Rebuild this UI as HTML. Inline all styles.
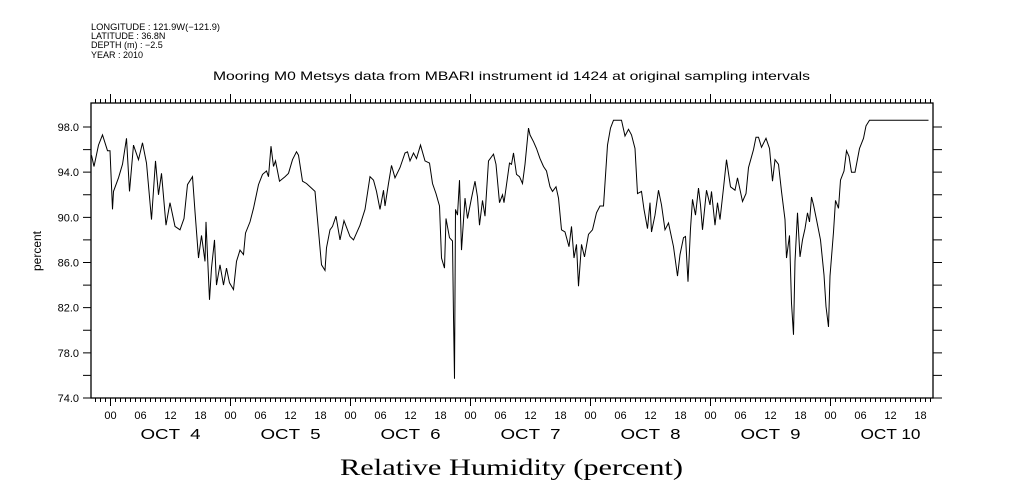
<!DOCTYPE html>
<html><head><meta charset="utf-8">
<style>
html,body{margin:0;padding:0;background:#fff;}
svg{display:block;}
text{font-family:"Liberation Sans",sans-serif;fill:#000;}
</style></head>
<body>
<svg id="chart" width="1009" height="504" viewBox="0 0 1009 504" xmlns="http://www.w3.org/2000/svg">
<g font-size="9">
<text x="91" y="30" textLength="129" lengthAdjust="spacingAndGlyphs">LONGITUDE : 121.9W(−121.9)</text>
<text x="91" y="39">LATITUDE : 36.8N</text>
<text x="91" y="48">DEPTH (m) : −2.5</text>
<text x="91" y="58">YEAR : 2010</text>
</g>
<text x="213" y="80" font-size="12" textLength="597" lengthAdjust="spacingAndGlyphs">Mooring M0 Metsys data from MBARI instrument id 1424 at original sampling intervals</text>
<text x="340" y="475" font-size="23" textLength="343" lengthAdjust="spacingAndGlyphs" style="font-family:'Liberation Serif',serif">Relative Humidity (percent)</text>
<text transform="translate(41,251) rotate(-90)" text-anchor="middle" font-size="12">percent</text>
<g id="axes"></g>
<g id="series"></g>
</svg>
<script>
const hours = [-3.8,-3.3,-2.4,-1.6,-0.6,-0.1,0.4,0.6,1.6,2.4,3.2,3.8,4.6,5.6,6.4,7.2,8.2,9.0,9.6,10.2,11.1,11.9,12.9,13.9,14.7,15.4,16.4,16.9,17.6,18.2,18.9,19.1,19.8,20.2,20.8,21.2,21.9,22.6,23.2,23.8,24.6,25.2,25.9,26.6,27.0,27.9,28.6,29.6,30.4,31.2,31.6,32.1,32.6,33.0,33.8,34.9,35.6,36.4,37.2,37.6,38.4,39.2,39.9,40.9,41.4,42.2,42.9,43.2,43.9,44.4,45.1,45.9,46.7,47.9,48.6,49.9,50.9,51.9,52.6,53.2,53.9,54.6,54.9,55.6,56.2,56.9,57.9,58.9,59.4,59.9,60.6,61.2,62.0,62.9,63.8,64.4,65.1,65.8,66.2,66.8,67.1,67.8,68.4,68.6,68.8,69.0,69.4,69.8,70.2,70.9,71.4,72.2,72.9,73.4,73.8,74.4,74.9,75.6,76.6,77.1,77.8,78.4,78.7,79.8,80.2,80.6,81.2,81.8,82.4,82.9,83.6,83.9,84.6,85.2,85.9,86.6,87.2,87.9,88.4,89.1,89.6,90.2,90.9,91.7,92.2,92.7,93.2,93.6,94.2,94.8,95.6,96.4,97.2,97.9,98.6,99.4,100.0,100.6,102.2,102.9,103.6,104.2,104.9,105.4,106.2,106.7,107.4,107.9,108.2,108.9,109.6,110.2,110.9,111.6,112.6,113.4,113.9,114.6,115.0,115.5,116.0,116.4,117.0,117.6,118.0,118.4,119.2,119.9,120.2,120.9,121.4,121.9,122.6,123.2,124.0,124.9,125.4,126.4,127.1,127.6,128.6,129.1,129.6,130.2,131.1,131.8,132.4,132.9,133.6,134.2,134.9,135.2,135.8,136.2,136.6,136.9,137.4,137.9,138.4,138.9,139.4,139.8,140.2,140.6,141.2,142.0,142.7,143.1,143.6,143.9,144.6,145.0,145.6,146.0,146.7,147.2,147.7,148.2,148.9,149.8,150.6,151.1,151.8,163.6];
const humidity = [95.5,94.5,96.4,97.3,95.9,95.9,90.7,92.3,93.5,94.7,97.0,92.3,96.4,95.1,96.6,94.8,89.8,95.0,92.0,93.9,89.3,91.3,89.2,88.9,89.9,92.9,93.6,90.5,86.4,88.4,86.1,89.6,82.7,85.5,88.0,84.0,85.8,84.0,85.5,84.2,83.6,86.1,87.1,86.7,88.6,89.6,90.8,92.9,93.8,94.1,93.6,96.3,94.5,95.0,93.2,93.6,93.9,95.1,95.8,95.5,93.2,93.0,92.7,92.3,89.8,85.8,85.3,87.3,88.9,89.2,90.1,88.0,89.7,88.3,88.0,89.3,90.7,93.6,93.3,92.3,90.7,92.4,91.0,93.0,94.6,93.5,94.4,95.7,95.8,95.0,95.7,95.2,96.4,95.0,94.8,93.0,92.1,91.0,86.4,85.5,89.9,88.2,87.9,81.2,75.7,90.7,90.2,93.3,87.1,91.7,89.9,91.7,93.2,91.8,89.3,91.5,90.1,95.0,95.6,94.7,91.3,92.0,91.3,94.8,94.7,95.7,93.8,93.6,93.0,94.7,97.9,97.3,96.7,96.1,95.2,94.5,94.1,92.7,92.3,92.7,91.7,88.9,88.7,87.4,89.2,86.4,87.6,83.9,87.6,86.5,88.5,88.9,90.4,91.0,91.0,96.4,97.9,98.6,98.6,97.2,97.8,97.3,96.1,92.1,92.3,90.7,89.0,91.3,88.7,90.2,92.4,91.1,88.9,89.5,87.4,84.8,86.7,88.2,88.3,84.3,89.0,91.6,90.2,92.6,91.1,88.9,92.4,91.1,92.3,89.3,91.3,89.8,92.6,95.1,92.7,92.4,93.5,91.4,92.1,94.4,96.0,97.1,97.1,96.2,97.0,96.1,93.2,95.1,94.7,92.3,89.8,86.4,88.4,82.4,79.6,86.1,90.4,86.5,88.0,89.0,90.4,89.6,91.8,91.1,89.8,88.0,84.9,82.1,80.3,84.8,88.7,91.5,90.8,93.3,94.1,95.9,95.4,94.0,94.0,96.1,97.0,98.1,98.6,98.6];
const yTicks = [74,78,82,86,90,94,98];
const dayLabels = ["OCT  4","OCT  5","OCT  6","OCT  7","OCT  8","OCT  9","OCT 10"];
const hourLabels = ["00","06","12","18"];

const L=91, R=933, T=103, B=398, X0=110.5, PXH=5;
const xs = h => X0 + h*PXH;
const ys = v => B - (v-74)*(B-127)/24;
const NS="http://www.w3.org/2000/svg";
const axes=document.getElementById('axes');
function mk(tag,attrs,parent){const e=document.createElementNS(NS,tag);for(const k in attrs)e.setAttribute(k,attrs[k]);parent.appendChild(e);return e;}

const frame=mk('rect',{x:L,y:T,width:R-L,height:B-T,fill:'none',stroke:'#000','stroke-width':1.3},axes);



let d='';
const hStart=Math.ceil((L-X0)/PXH), hEnd=Math.floor((R-X0)/PXH);
for(let h=hStart;h<=hEnd;h++){
  const x=xs(h), day=(h%24===0);
  d+=`M${x} ${B}V${B+(day?8:4)}M${x} ${T}V${T-(day?9:4)}`;
}
for(let v=74;v<=98;v+=2){ const y=ys(v); d+=`M${L} ${y}H${L-8}M${R} ${y}H${R+9}`; }
const ticks=mk('path',{d:d,stroke:'#000','stroke-width':1,fill:'none'},axes);



yTicks.forEach(v=>{
  const t=mk('text',{x:L-12,y:ys(v)+4,'text-anchor':'end','font-size':11},axes);
  t.textContent=v.toFixed(1);
  
  
});
for(let h=0;h*PXH+X0<=R;h+=6){
  const t=mk('text',{x:xs(h),y:419,'text-anchor':'middle','font-size':11},axes);
  t.textContent=hourLabels[(h/6)%4];
  
  
}
dayLabels.forEach((lab,i)=>{
  const t=mk('text',{x:xs(i*24+12)-30,y:439,'font-size':15,textLength:60,lengthAdjust:'spacingAndGlyphs'},axes);
  t.setAttribute('xml:space','preserve');
  t.style.whiteSpace='pre';
  t.textContent=lab;
  
  
});

const pts=hours.map((h,i)=>xs(h).toFixed(1)+','+ys(humidity[i]).toFixed(1)).join(' ');
const line=mk('polyline',{points:pts,fill:'none',stroke:'#000','stroke-width':1,'stroke-linejoin':'miter'},document.getElementById('series'));


</script>
</body></html>
